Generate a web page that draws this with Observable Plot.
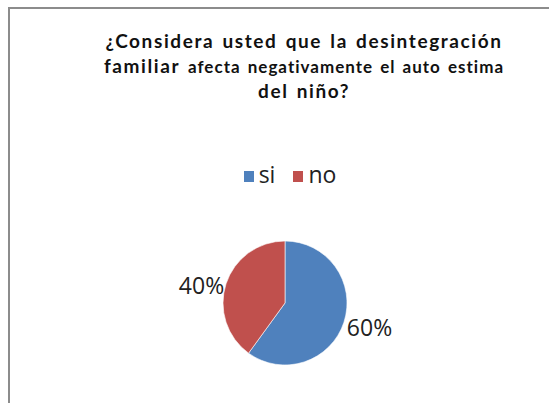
<!DOCTYPE html>
<html>
<head>
<meta charset="utf-8">
<script src="https://cdn.jsdelivr.net/npm/d3@7"></script>
<script src="https://cdn.jsdelivr.net/npm/@observablehq/plot@0.6"></script>
<style>
  html, body { margin: 0; padding: 0; background: #fff; }
  body { width: 549px; height: 403px; position: relative; overflow: hidden; font-family: Lato, "Open Sans", sans-serif; }
  #frame { position: absolute; left: 8px; top: 7px; width: 600px; height: 450px; border-left: 2px solid #8c8c8c; border-top: 2px solid #8c8c8c; }
  #title { position: absolute; left: 0; width: 608px; top: 29px; text-align: center; font-weight: bold; font-size: 19px; line-height: 24.5px; color: #111; letter-spacing: 1.6px; word-spacing: 2px; }
  #title .small { font-size: 17px; letter-spacing: 1.0px; }
  #legend { position: absolute; left: 0; width: 580px; top: 158px; text-align: center; font-size: 23px; color: #222; font-family: "Open Sans", sans-serif; }
  #legend .item { display: inline-block; margin: 0 9px; }
  #legend .sw { display: inline-block; width: 10px; height: 11px; margin-right: 5px; vertical-align: 1px; }
  #chart { position: absolute; left: 0; top: 0; }
</style>
</head>
<body>
<div id="chart"></div>
<div id="frame"></div>
<div id="title">¿Considera usted que la desintegración<br>familiar <span class="small">afecta negativamente el auto estima</span><br>del niño?</div>
<div id="legend"></div>
<script>
const categories = ["si", "no"];
const values = [60, 40];
const colors = ["#4F81BD", "#C0504D"];

const data = categories.map((c, i) => ({cat: c, value: values[i]}));
const total = d3.sum(values);
const arcs = d3.pie().sort(null).value(d => d.value)(data);
const color = Plot.scale({color: {domain: categories, range: colors}});

// label positions derived from slice mid-angles
const labels = arcs.map(a => {
  const mid = (a.startAngle + a.endAngle) / 2;
  const s = Math.sin(mid), c = -Math.cos(mid);
  return {
    text: Math.round(a.data.value / total * 100) + "%",
    x: s * 1.04,
    y: -c * 1.1 - 0.06,
    anchor: s >= 0 ? "start" : "end"
  };
});

// legend
const legend = d3.select("#legend");
categories.forEach(c => {
  const it = legend.append("span").attr("class", "item");
  it.append("span").attr("class", "sw").style("background", color.apply(c));
  it.append("span").text(c);
});

function pieMark(index, scales) {
  const cx = scales.x(0), cy = scales.y(0), r = scales.x(1) - scales.x(0);
  const g = d3.create("svg:g").attr("transform", `translate(${cx},${cy})`);
  const arc = d3.arc().innerRadius(0).outerRadius(r);
  g.selectAll("path").data(arcs).join("path")
    .attr("d", arc)
    .attr("fill", d => color.apply(d.data.cat))
    .attr("stroke", "#fff")
    .attr("stroke-width", 0.6);
  return g.node();
}

const textOpts = {x: "x", y: "y", text: "text", fontSize: 23, fill: "#222", fontFamily: "'Open Sans', sans-serif"};
const plot = Plot.plot({
  width: 549,
  height: 403,
  margin: 0,
  x: {domain: [-1, 1], range: [223, 347], axis: null},
  y: {domain: [-1, 1], range: [365, 241], axis: null},
  marks: [
    pieMark,
    Plot.text(labels.filter(d => d.anchor === "end"), {...textOpts, textAnchor: "end"}),
    Plot.text(labels.filter(d => d.anchor === "start"), {...textOpts, textAnchor: "start"})
  ]
});
document.getElementById("chart").appendChild(plot);
</script>
</body>
</html>
